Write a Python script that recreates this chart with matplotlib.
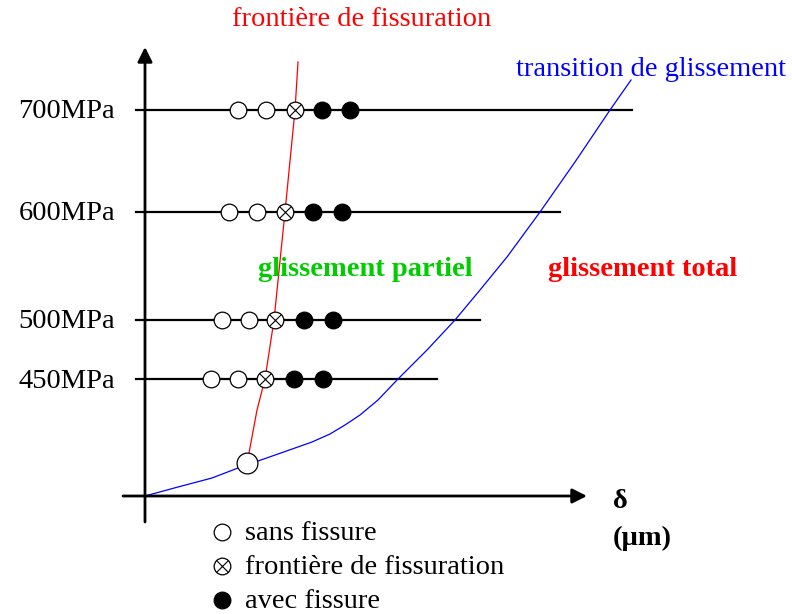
import matplotlib.pyplot as plt

plt.rcParams['font.family'] = ['Liberation Serif', 'DejaVu Serif']

# stress levels (schematic, positions in picture units)
levels = ['700MPa', '600MPa', '500MPa', '450MPa']
level_y = [110, 212, 320, 379]
line_end = [632, 560, 480, 437]
sans_x = [[238, 266], [229, 257], [222, 249], [211, 238]]
front_x = [295, 285, 275, 265]
avec_x = [[322, 350], [313, 342], [304, 333], [294, 323]]

# frontière de fissuration (red) and transition de glissement (blue)
red_x = [249, 257, 265, 274, 285, 295, 298]
red_y = [453, 410, 379, 320, 212, 110, 62]
blue_x = [145, 178, 212, 238, 258, 278, 312, 330, 345, 360, 378, 397, 427, 455, 480, 507, 540, 575, 610, 631]
blue_y = [496, 487, 478, 468, 461, 454, 442, 434, 425, 415, 400, 380, 350, 320, 290, 257, 212, 162, 110, 80]

fig = plt.figure(figsize=(7.92, 6.14), dpi=100)
ax = fig.add_axes([0, 0, 1, 1])
ax.set_xlim(0, 792)
ax.set_ylim(614, 0)
ax.axis('off')

# axes with arrows
ax.annotate('', xy=(145, 47), xytext=(145, 522),
            arrowprops=dict(arrowstyle='-|>', lw=2, color='black', mutation_scale=22,
                            shrinkA=0, shrinkB=0))
ax.annotate('', xy=(587, 496), xytext=(123, 496),
            arrowprops=dict(arrowstyle='-|>', lw=2, color='black', mutation_scale=22,
                            shrinkA=0, shrinkB=0))

# curves
ax.plot(red_x, red_y, color='#ff0000', lw=0.9, zorder=2)
ax.plot(blue_x, blue_y, color='#0000ff', lw=0.9, zorder=2)

fs = 20.5
ms = 12
for lab, y, xe, so, fr, av in zip(levels, level_y, line_end, sans_x, front_x, avec_x):
    ax.plot([136, xe], [y, y], color='black', lw=1.6, zorder=1)
    ax.text(115, y + 2, lab, ha='right', va='center', fontsize=fs)
    ax.plot(so, [y] * len(so), 'o', ms=ms, mfc='white', mec='black', mew=0.9, zorder=3)
    ax.plot([fr], [y], 'o', ms=ms, mfc='white', mec='black', mew=0.9, zorder=3)
    ax.plot([fr], [y], 'x', ms=8.3, mec='black', mew=0.8, zorder=4)
    ax.plot(av, [y] * len(av), 'o', ms=ms, mfc='black', mec='black', mew=0.9, zorder=3)

# start of the fissuration frontier
ax.plot([247], [463], 'o', ms=15, mfc='white', mec='black', mew=0.9, zorder=3)

# labels
ax.text(362, 20, 'frontière de fissuration', color='#ff0000', ha='center', va='center', fontsize=fs)
ax.text(786, 70, 'transition de glissement', color='#0000ff', ha='right', va='center', fontsize=fs)
ax.text(365, 270, 'glissement partiel', color='#00cc00', ha='center', va='center',
        fontsize=fs, fontweight='bold')
ax.text(643, 270, 'glissement total', color='#ff0000', ha='center', va='center',
        fontsize=fs, fontweight='bold')
ax.text(613, 501, 'δ', ha='left', va='center', fontsize=fs, fontweight='bold')
ax.text(613, 538, '(µm)', ha='left', va='center', fontsize=fs, fontweight='bold')

# legend
leg_y = [532, 566, 600]
leg_txt = ['sans fissure', 'frontière de fissuration', 'avec fissure']
ax.plot([222], [leg_y[0]], 'o', ms=ms, mfc='white', mec='black', mew=0.9)
ax.plot([222], [leg_y[1]], 'o', ms=ms, mfc='white', mec='black', mew=0.9)
ax.plot([222], [leg_y[1]], 'x', ms=8.3, mec='black', mew=0.8)
ax.plot([222], [leg_y[2]], 'o', ms=ms, mfc='black', mec='black', mew=0.9)
for y, t in zip(leg_y, leg_txt):
    ax.text(245, y + 2, t, ha='left', va='center', fontsize=fs)

fig.savefig('out.png', dpi=100)
